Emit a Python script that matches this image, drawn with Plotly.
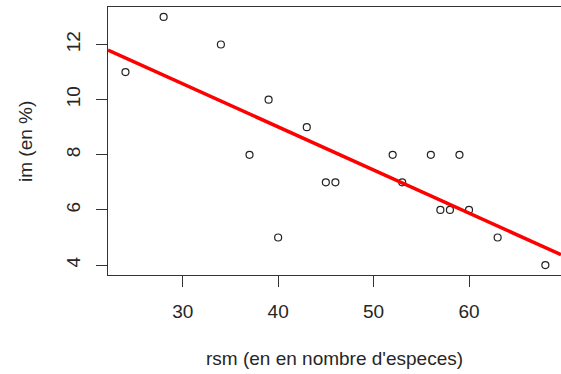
import numpy as np
import plotly.graph_objects as go

rsm = [24, 28, 34, 37, 39, 40, 43, 45, 46, 52, 53, 56, 57, 58, 59, 60, 63, 68]
im = [11, 13, 12, 8, 10, 5, 9, 7, 7, 8, 7, 8, 6, 6, 8, 6, 5, 4]
x_ticks = [30, 40, 50, 60]
y_ticks = [4, 6, 8, 10, 12]

x_range = [22.17, 69.64]
y_range = [3.64, 13.36]

slope, intercept = np.polyfit(rsm, im, 1)
line_x = np.array(x_range)
line_y = intercept + slope * line_x

font_col = "#262626"
L, R, T, B = 108, 0, 7, 99
pw, ph = 561 - L - R, 374 - T - B

fig = go.Figure()
fig.add_trace(go.Scatter(
    x=rsm, y=im, mode="markers",
    marker=dict(symbol="circle-open", size=7, color="#222222", line=dict(width=1.2, color="#222222")),
    showlegend=False, cliponaxis=False))
fig.add_trace(go.Scatter(
    x=line_x, y=line_y, mode="lines",
    line=dict(color="#ff0000", width=3.5), showlegend=False))

fig.update_layout(
    width=561, height=374,
    margin=dict(l=L, r=R, t=T, b=B, autoexpand=False),
    paper_bgcolor="white", plot_bgcolor="white",
    font=dict(family="Liberation Sans, Arial, sans-serif", size=19, color=font_col),
    xaxis=dict(range=x_range, tickvals=x_ticks, ticks="outside", ticklen=11, tickwidth=1.3,
               tickcolor="#333333", showgrid=False, zeroline=False, showline=True,
               linecolor="#333333", linewidth=1.3, mirror=True, ticklabelstandoff=8,
               automargin=False, tickfont=dict(size=19, color=font_col)),
    yaxis=dict(range=y_range, tickvals=y_ticks, ticks="outside", ticklen=11, tickwidth=1.3,
               tickcolor="#333333", showgrid=False, zeroline=False, showline=True,
               linecolor="#333333", linewidth=1.3, tickangle=-90, ticklabelstandoff=8,
               automargin=False, tickfont=dict(size=19, color=font_col)),
    annotations=[
        dict(text="rsm (en en nombre d'especes)", x=(334 - L) / pw, y=(374 - 358 - B) / ph,
             xanchor="center", yanchor="middle",
             xref="paper", yref="paper", showarrow=False, font=dict(size=19, color=font_col)),
        dict(text="im (en %)", x=(25 - L) / pw, y=(374 - 142 - B) / ph, textangle=-90,
             xanchor="center", yanchor="middle",
             xref="paper", yref="paper", showarrow=False, font=dict(size=19, color=font_col)),
    ],
)
fig.write_html("out.html", config={"displayModeBar": False},
               post_script="document.body.style.margin='0';")
